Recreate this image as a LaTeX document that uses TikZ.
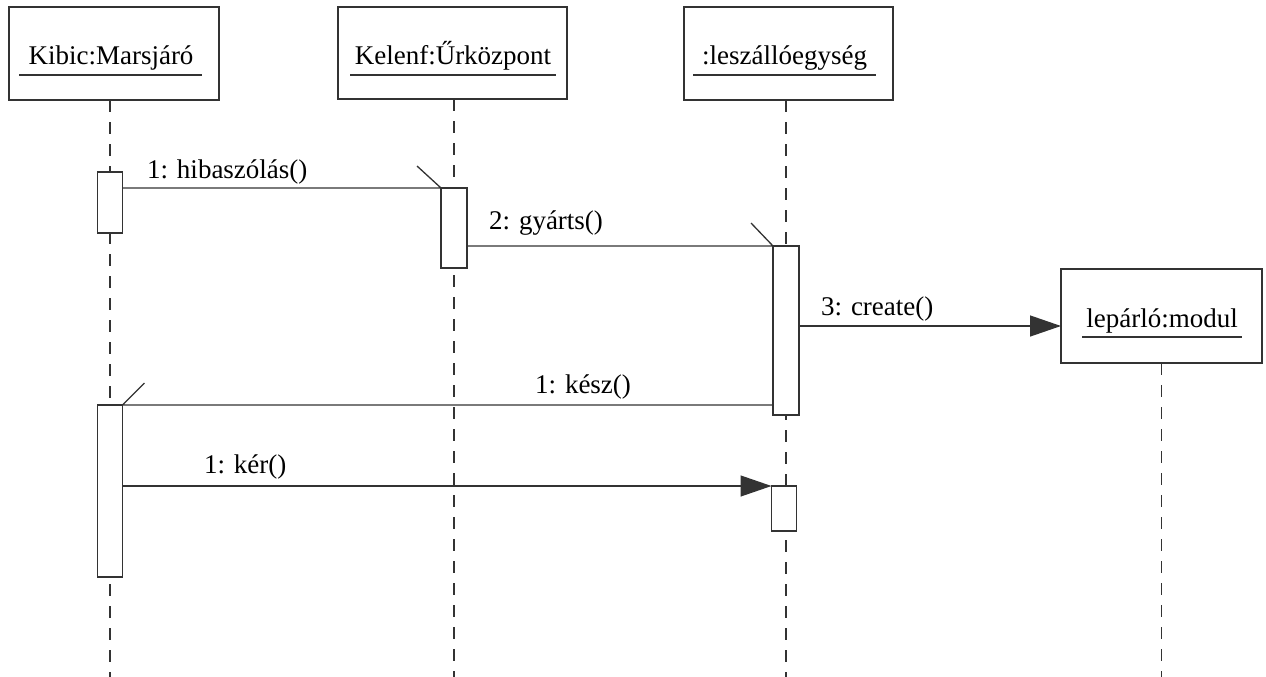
\documentclass[tikz,border=0pt]{standalone}
\usepackage{fontspec}
\setmainfont{Liberation Serif}
\usetikzlibrary{arrows.meta}
\begin{document}
\begin{tikzpicture}[x=1pt,y=-1pt,
  every node/.style={inner sep=0pt, outer sep=0pt, font=\fontsize{27}{32}\selectfont},
  objbox/.style={draw=black!80, line width=1.3pt, fill=white, rectangle},
  actbox/.style={draw=black!80, line width=1.3pt, fill=white, rectangle, minimum width=25pt},
  lifeline/.style={draw=black!80, line width=1.3pt, dash pattern=on 12pt off 10pt},
  msg/.style={draw=black!80, line width=1.3pt},
  uline/.style={draw=black!80, line width=1.3pt},
  filledarrow/.style={msg, -{Triangle[length=31pt,width=21pt]}},
  lbl/.style={anchor=base west}]
\useasboundingbox (0,0) rectangle (1266,677);
\coordinate (bot) at (0,677);
\coordinate (m3) at (0,326);

% object boxes
\node[objbox, minimum width=210pt, minimum height=93pt] (b1) at (114,53.5) {};
\node[objbox, minimum width=229pt, minimum height=92pt] (b2) at (452.5,53) {};
\node[objbox, minimum width=209pt, minimum height=93pt] (b3) at (788.5,53.5) {};

% activations (positions)
\node[actbox, minimum height=61pt] (a1) at (110,202.5) {};
\node[actbox, minimum height=80pt, minimum width=26pt] (a2) at (454,228) {};
\node[actbox, minimum height=169pt, minimum width=26pt] (a3) at (786,330.5) {};
\node[actbox, minimum height=172pt] (a1b) at (110,491) {};
\node[actbox, minimum height=45pt] (a4) at (784,508.5) {};
\node[objbox, minimum width=201pt, minimum height=94pt] (b4) at (1161.5,316) {};

% lifelines
\draw[lifeline] (a1.center |- b1.south) -- (a1.center |- bot);
\draw[lifeline] (a2.center |- b2.south) -- (a2.center |- bot);
\draw[lifeline] (a3.center |- b3.south) -- (a3.center |- bot);
\draw[lifeline] (b4.south) -- (b4.south |- bot);

% redraw boxes on top of lifelines
\node[objbox, minimum width=210pt, minimum height=93pt] at (b1) {};
\node[objbox, minimum width=229pt, minimum height=92pt] at (b2) {};
\node[objbox, minimum width=209pt, minimum height=93pt] at (b3) {};
\node[objbox, minimum width=201pt, minimum height=94pt] at (b4) {};
\node[actbox, minimum height=61pt] at (a1) {};
\node[actbox, minimum height=80pt, minimum width=26pt] at (a2) {};
\node[actbox, minimum height=169pt, minimum width=26pt] at (a3) {};
\node[actbox, minimum height=172pt] at (a1b) {};
\node[actbox, minimum height=45pt] at (a4) {};

% object names
\node[anchor=base] (t1) at (111,65) {Kibic:Marsjáró};
\node[anchor=base] (t2) at (453,65) {Kelenf:Űrközpont};
\node[anchor=base] (t3) at (784.5,65) {:leszállóegység};
\node[anchor=base] (t4) at (1162,327) {lepárló:modul};
\draw[uline] (19,75) -- (202,75);
\draw[uline] (350,75) -- (556,75);
\draw[uline] (693,75) -- (876,75);
\draw[uline] (1082,337) -- (1242,337);

% messages
\draw[msg] (a1.east |- a2.north) -- (a2.north west) -- ++(-24,-22);
\node[lbl] (l1) at (147,178) {1: hibaszólás()};

\draw[msg] (a2.east |- a3.north) -- (a3.north west) -- ++(-22,-23);
\node[lbl] (l2) at (489,229) {2: gyárts()};

\draw[filledarrow] (a3.east |- m3) -- (b4.west |- m3);
\node[lbl] (l3) at (821,315) {3: create()};

\draw[msg] (a3.west |- a1b.north) -- (a1b.north east) -- ++(22,-22);
\node[lbl] (l4) at (535,393) {1: kész()};

\draw[filledarrow] (a1b.east |- a4.north) -- (a4.north west);
\node[lbl] (l5) at (204,473) {1: kér()};
\end{tikzpicture}
\end{document}
